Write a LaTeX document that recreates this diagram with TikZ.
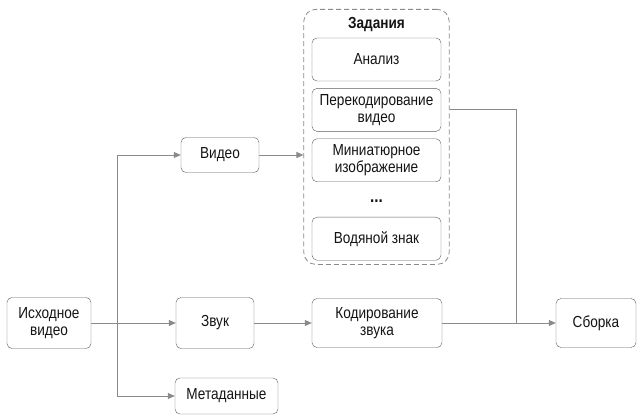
\documentclass[tikz,border=0pt]{standalone}
\usepackage{fontspec}
\setmainfont[FakeStretch=0.85]{Liberation Sans}
\usetikzlibrary{positioning,fit,arrows.meta,calc}

\definecolor{linegray}{HTML}{8A8A8A}
\definecolor{boxgray}{HTML}{5C5C5C}
\definecolor{txt}{HTML}{141414}

\begin{document}
\begin{tikzpicture}[
    box/.style={draw=boxgray, rounded corners=5pt, align=center, text=txt,
      font=\fontsize{16}{17}\selectfont, inner sep=1pt},
    task/.style={box, minimum width=129pt, minimum height=43pt},
    link/.style={draw=linegray, line width=0.8pt,
      -{Triangle[length=7pt,width=6pt]}},
    plain/.style={draw=linegray, line width=0.8pt},
    group/.style={draw=linegray, dash pattern=on 5pt off 3pt, rounded corners=12pt, line width=0.8pt}
  ]
  \useasboundingbox (0,0) rectangle (642pt,418pt);
  %Main row: source, sound, encoding, assembly.
  \node[box, minimum width=84pt, minimum height=51pt] (src) at (49pt,95pt) {Исходное\\видео};
  \node[box, minimum width=78pt, minimum height=51pt] (audio) at (215pt,95pt) {Звук};
  \node[box, minimum width=130pt, minimum height=49pt] (encode) at (377pt,95pt) {Кодирование\\звука};
  \node[box, minimum width=80pt, minimum height=49pt] (merge) at (596pt,95pt) {Сборка};
  %The branches above and below.
  \node[box, minimum width=78pt, minimum height=35pt] (video) at (220pt,263pt) {Видео};
  \node[box, minimum width=103pt, minimum height=36pt] (meta) at (226.5pt,22pt) {Метаданные};
  %The tasks, stacked one below the other.
  \node[task] (analysis) at (376.5pt,358.5pt) {Анализ};
  \node[task, below=7pt of analysis] (transcode) {Перекодирование\\видео};
  \node[task, below=7pt of transcode] (thumb) {Миниатюрное\\изображение};
  \node[task, below=35pt of thumb] (watermark) {Водяной знак};
  \node[text=txt, font=\fontsize{18}{18}\selectfont\bfseries] (dots) at ($(thumb.south)!0.55!(watermark.north)$) {...};
  \node[text=txt, font=\fontsize{16}{17}\selectfont\bfseries, above=3pt of analysis] (title) {Задания};
  %Dashed frame round the tasks.
  \node[group, fit=(title)(analysis)(watermark), inner xsep=8pt, inner ysep=4pt] (tasks) {};

  %Connectors.
  \coordinate[right=26pt of src] (split);
  \draw[link] (src) -- (audio);
  \draw[link] (split) |- (video);
  \draw[link] (split) |- (meta);
  \draw[link] (video) -- (video -| tasks.west);
  \draw[link] (audio) -- (audio -| encode.west);
  \draw[link] (encode) -- (merge);
  \coordinate (join) at (516pt,95pt);
  \draw[plain] (tasks.east |- transcode) -| (join);
\end{tikzpicture}
\end{document}
